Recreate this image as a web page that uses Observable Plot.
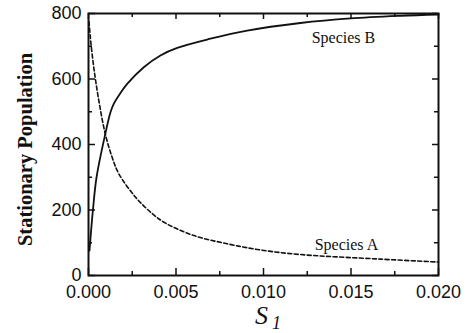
<!DOCTYPE html>
<html><head><meta charset="utf-8">
<script src="https://cdn.jsdelivr.net/npm/d3@7"></script>
<script src="https://cdn.jsdelivr.net/npm/@observablehq/plot@0.6"></script>
<style>body{margin:0;background:#fff}</style>
</head><body><div id="chart"></div>
<script>
const speciesB_S = [0.000057,0.00025,0.00046,0.00095,0.00126,0.00145,0.0018,0.00221,0.00316,0.00411,0.00507,0.00697,0.00907,0.01211,0.01497,0.01783,0.020];
const speciesB_N = [76,198,300,430,499,525,555,585,636,672,695,723,748,771,785,793,797];
const speciesA_S = [0.00003,0.0001,0.0003,0.00059,0.00096,0.00135,0.00173,0.00269,0.00364,0.0044,0.00602,0.00792,0.00983,0.01211,0.01669,0.020];
const speciesA_N = [775,730,636,534,432,361,311,239,189,160,122,97,78,64,50,41];
const xMajor = [0,0.005,0.010,0.015,0.020];
const xMinor = [0.0025,0.0075,0.0125,0.0175];
const yMajor = [0,200,400,600,800];
const yMinor = [100,300,500,700];
const annotations = [{S:0.01457,N:727,text:"Species B"},{S:0.01474,N:95,text:"Species A"}];

const B = speciesB_S.map((s,i)=>({S:s,N:speciesB_N[i]}));
const A = speciesA_S.map((s,i)=>({S:s,N:speciesA_N[i]}));

const sans = "'Liberation Sans', Arial, sans-serif";
const serif = "'Liberation Serif', 'Times New Roman', serif";
const W = 471, H = 333, mL = 88, mR = 33, mT = 13, mB = 58;
const iw = W - mL - mR, ih = H - mT - mB;
const tk = {stroke: "#111", strokeWidth: 1.5};

const chart = Plot.plot({
  width: W, height: H,
  marginLeft: mL, marginRight: mR, marginTop: mT, marginBottom: mB,
  style: {fontFamily: sans, fontSize: "18px", color: "#111", background: "#fff"},
  x: {domain: [0, 0.020], axis: null},
  y: {domain: [0, 800], axis: null},
  marks: [
    Plot.axisX({anchor: "bottom", ticks: xMajor, tickSize: 0, tickPadding: 10, tickFormat: d3.format(".3f"), fontSize: 18, label: null}),
    Plot.axisY({anchor: "left", ticks: yMajor, tickSize: 0, tickPadding: 7, tickFormat: d3.format("d"), fontSize: 18, label: null}),
    // inward ticks on all four sides
    Plot.ruleX(xMajor, {x: d => d, insetTop: ih - 7, ...tk}),
    Plot.ruleX(xMinor, {x: d => d, insetTop: ih - 4, ...tk}),
    Plot.ruleX(xMajor, {x: d => d, insetBottom: ih - 6, ...tk}),
    Plot.ruleX(xMinor, {x: d => d, insetBottom: ih - 4, ...tk}),
    Plot.ruleY(yMajor, {y: d => d, insetRight: iw - 7, ...tk}),
    Plot.ruleY(yMinor, {y: d => d, insetRight: iw - 4, ...tk}),
    Plot.ruleY(yMajor, {y: d => d, insetLeft: iw - 6, ...tk}),
    Plot.ruleY(yMinor, {y: d => d, insetLeft: iw - 4, ...tk}),
    Plot.line(A, {x: "S", y: "N", stroke: "#111", strokeWidth: 1.6, strokeDasharray: "4,2.5", curve: "catmull-rom"}),
    Plot.line(B, {x: "S", y: "N", stroke: "#111", strokeWidth: 1.8, curve: "catmull-rom"}),
    Plot.frame({stroke: "#111", strokeWidth: 2}),
    Plot.text(annotations, {x: "S", y: "N", text: "text", fontFamily: serif, fontSize: 16, fill: "#111"}),
    Plot.text(["Stationary Population"], {frameAnchor: "left", textAnchor: "middle", rotate: -90, dx: -63, dy: 5, fontFamily: serif, fontWeight: "bold", fontSize: 20.5, fill: "#111"}),
    Plot.text(["S"], {frameAnchor: "bottom", textAnchor: "middle", lineAnchor: "bottom", dx: -2, dy: 48, fontFamily: serif, fontStyle: "italic", fontSize: 26, fill: "#111"}),
    Plot.text(["1"], {frameAnchor: "bottom", textAnchor: "middle", lineAnchor: "bottom", dx: 13, dy: 53, fontFamily: serif, fontStyle: "italic", fontSize: 18, fill: "#111"})
  ]
});
document.getElementById("chart").appendChild(chart);
</script></body></html>
